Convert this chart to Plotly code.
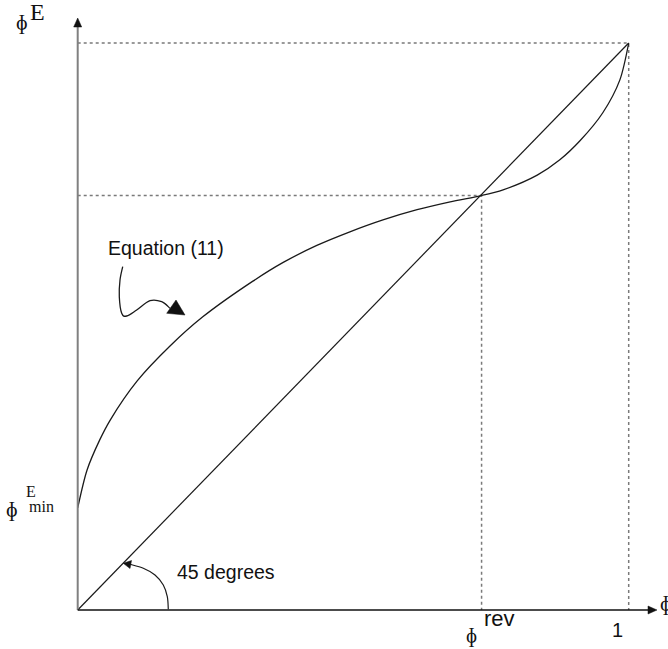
import plotly.graph_objects as go

# ---- data ----
phi = [0.0, 0.017, 0.040, 0.059, 0.108, 0.168, 0.227, 0.318, 0.373, 0.434, 0.494,
       0.554, 0.616, 0.676, 0.733, 0.772, 0.834, 0.875, 0.912, 0.953, 0.984, 1.0]
phi_E = [0.180, 0.247, 0.300, 0.335, 0.404, 0.466, 0.517, 0.580, 0.613, 0.643, 0.667,
         0.688, 0.706, 0.720, 0.731, 0.741, 0.767, 0.794, 0.828, 0.877, 0.935, 1.0]
diag = [0.0, 1.0]
phi_rev = 0.733
phi_E_rev = 0.731
phi_max = 1.0

# ---- layout geometry (pixels of the 668x649 page) ----
W, H = 668, 649
X0, X1, Y0, Y1 = 77.7, 628.7, 610.0, 43.0


def dx(px):
    return (px - X0) / (X1 - X0)


def dy(py):
    return (Y0 - py) / (Y0 - Y1)


def smooth_path(pts):
    p = [(dx(a), dy(b)) for a, b in pts]
    s = "M %.5f,%.5f" % p[0]
    n = len(p)
    for i in range(n - 1):
        p0 = p[i - 1] if i > 0 else p[i]
        p1 = p[i]
        p2 = p[i + 1]
        p3 = p[i + 2] if i + 2 < n else p[i + 1]
        c1 = (p1[0] + (p2[0] - p0[0]) / 6, p1[1] + (p2[1] - p0[1]) / 6)
        c2 = (p2[0] - (p3[0] - p1[0]) / 6, p2[1] - (p3[1] - p1[1]) / 6)
        s += " C %.5f,%.5f %.5f,%.5f %.5f,%.5f" % (c1[0], c1[1], c2[0], c2[1], p2[0], p2[1])
    return s


def poly_path(pts):
    p = [(dx(a), dy(b)) for a, b in pts]
    return "M " + " L ".join("%.5f,%.5f" % q for q in p) + " Z"


fig = go.Figure()

# dotted guides
fig.add_trace(go.Scatter(x=[0, phi_max, phi_max], y=[phi_max, phi_max, 0], mode="lines",
                         line=dict(color="#7a7a7a", width=1.5, dash="dot"), hoverinfo="skip"))
fig.add_trace(go.Scatter(x=[0, phi_rev, phi_rev], y=[phi_E_rev, phi_E_rev, 0], mode="lines",
                         line=dict(color="#7a7a7a", width=1.5, dash="dot"), hoverinfo="skip"))
# 45 degree line
fig.add_trace(go.Scatter(x=diag, y=diag, mode="lines",
                         line=dict(color="#1a1a1a", width=1.2), hoverinfo="skip"))
# Equation (11) curve
fig.add_trace(go.Scatter(x=phi, y=phi_E, mode="lines",
                         line=dict(color="#1a1a1a", width=1.3, shape="spline", smoothing=0.8),
                         hoverinfo="skip"))

shapes = []
# axes
shapes.append(dict(type="line", xref="x", yref="y", x0=0, y0=0, x1=0, y1=dy(26),
                   line=dict(color="#808080", width=2)))
shapes.append(dict(type="line", xref="x", yref="y", x0=0, y0=0, x1=dx(650), y1=0,
                   line=dict(color="#111111", width=1.5)))
shapes.append(dict(type="path", xref="x", yref="y",
                   path=poly_path([(X0, 18), (X0 - 4, 27), (X0 + 4, 27)]),
                   fillcolor="#111111", line=dict(color="#111111", width=0.5)))
shapes.append(dict(type="path", xref="x", yref="y",
                   path=poly_path([(657, Y0), (648, Y0 - 4), (648, Y0 + 4)]),
                   fillcolor="#111111", line=dict(color="#111111", width=0.5)))
# 45 degrees arc arrow
shapes.append(dict(type="path", xref="x", yref="y",
                   path=smooth_path([(168.3, 609.3), (167.3, 596.7), (163.3, 585), (155, 575),
                                     (143.3, 568.3), (130, 564.3)]),
                   line=dict(color="#1a1a1a", width=1.2)))
shapes.append(dict(type="path", xref="x", yref="y",
                   path=poly_path([(123.3, 563.3), (131.5, 560.5), (130, 568.5)]),
                   fillcolor="#111111", line=dict(color="#111111", width=0.5)))
# Equation (11) squiggle arrow
shapes.append(dict(type="path", xref="x", yref="y",
                   path=smooth_path([(122.7, 266.7), (120, 280), (119.3, 296.7), (121.7, 313.3),
                                     (126.7, 316), (136.7, 310), (150, 300.7), (161.7, 301.7),
                                     (170, 308.3)]),
                   line=dict(color="#1a1a1a", width=1.3)))
shapes.append(dict(type="path", xref="x", yref="y",
                   path=poly_path([(176, 300), (166.7, 313.3), (185, 315)]),
                   fillcolor="#111111", line=dict(color="#111111", width=0.5)))

SERIF = "Liberation Serif, Times New Roman, DejaVu Serif, serif"
SANS = "Liberation Sans, Arial, Helvetica, sans-serif"
PHI = "\u0278"


def ann(text, px, py, size, family, xanchor="center", yanchor="middle"):
    return dict(text=text, x=px / W, y=1 - py / H, xref="paper", yref="paper",
                showarrow=False, xanchor=xanchor, yanchor=yanchor,
                font=dict(size=size, family=family, color="#111111"))


annotations = [
    ann(PHI, 22, 22, 21, SERIF),
    ann("E", 37, 12, 24, SERIF),
    ann(PHI, 12, 509, 21, SERIF),
    ann("E", 31, 491, 16, SERIF),
    ann("min", 27, 506, 16, SERIF, xanchor="left"),
    ann(PHI, 471, 635, 20, SERIF),
    ann("rev", 482, 618, 22, SANS, xanchor="left"),
    ann("1", 617.5, 630, 20, SANS),
    ann(PHI, 658, 603, 21, SERIF, xanchor="left"),
    ann("45 degrees", 175, 572, 19.5, SANS, xanchor="left"),
    ann("Equation (11)", 106, 248, 19.5, SANS, xanchor="left"),
]

fig.update_layout(
    width=W, height=H,
    margin=dict(l=0, r=0, t=0, b=0),
    paper_bgcolor="white", plot_bgcolor="white",
    showlegend=False,
    xaxis=dict(range=[dx(0), dx(W)], visible=False, fixedrange=True),
    yaxis=dict(range=[dy(H), dy(0)], visible=False, fixedrange=True),
    shapes=shapes,
    annotations=annotations,
)

fig.write_html(
    "out.html",
    config={"displayModeBar": False},
    post_script="document.body.style.margin='0';document.body.style.overflow='hidden';",
)
